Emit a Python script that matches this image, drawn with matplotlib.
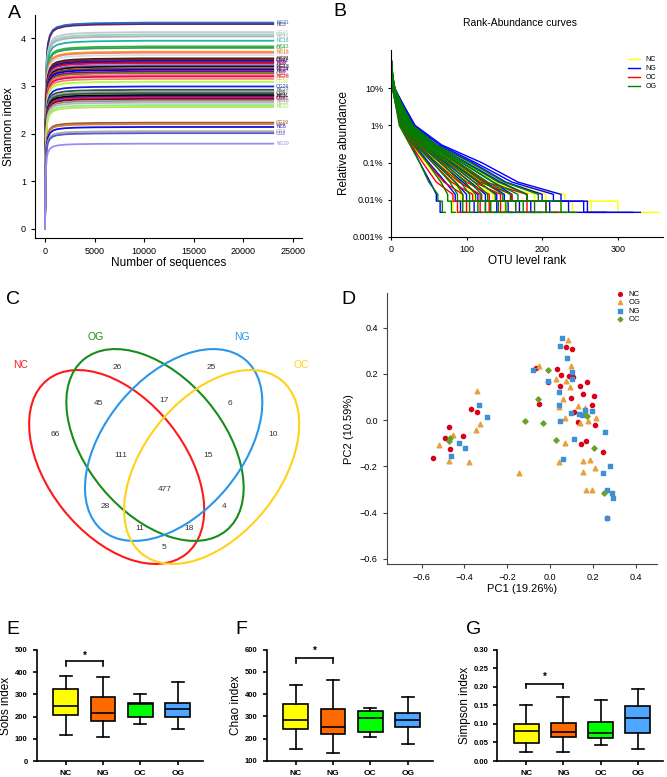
import numpy as np
import matplotlib
matplotlib.use("Agg")
import matplotlib.pyplot as plt
from matplotlib.patches import Ellipse

plt.rcParams['font.family'] = ['Liberation Sans', 'DejaVu Sans']

W, H = 667, 777

# ---------------- A: Shannon rarefaction curves ----------------
depth = [0, 50, 100, 200, 300, 500, 800, 1200, 2000, 3000, 5000, 10000, 23000]
depth_frac = [0, 0.55, 0.72, 0.85, 0.90, 0.94, 0.965, 0.978, 0.988, 0.993, 0.997, 1.0, 1.0]
shannon_names = ['NG31', 'NC3', 'OG16', 'OG6', 'NC21', 'NC16', 'NC13', 'OC4', 'NG15', 'NC15',
                 'OG11', 'NG21', 'OG27', 'OG21', 'NG9', 'NC8', 'OC1', 'NG18', 'OG13', 'NC24',
                 'NG4', 'OG8', 'NC19', 'NG26', 'OC7', 'OG30', 'OG24', 'NC27', 'NG12', 'OG5',
                 'NC11', 'NG2', 'OC3', 'OG17', 'NG23', 'NC30', 'NC7', 'NC20', 'OG19', 'OG9',
                 'NC6', 'OG3', 'OG2', 'NG29']
shannon_final = [4.33, 4.30, 4.13, 4.08, 4.04, 3.95, 3.83, 3.80, 3.72, 3.70,
                 3.65, 3.58, 3.56, 3.53, 3.50, 3.48, 3.44, 3.41, 3.37, 3.34,
                 3.30, 3.27, 3.23, 3.20, 3.15, 3.09, 2.99, 2.92, 2.88, 2.85,
                 2.81, 2.78, 2.76, 2.73, 2.69, 2.65, 2.60, 2.56, 2.23, 2.20,
                 2.14, 2.05, 2.01, 1.79]
shannon_colors = ['#1f6fd1', '#5a2a6a', '#c8c8c8', '#8fd6d0', '#b0b0b0', '#20b2aa', '#2db82d', '#3a9a6a', '#ffa500', '#f08070',
                  '#dddddd', '#222222', '#8b1a1a', '#1a1a8a', '#4b0082', '#dc143c', '#9370db', '#111111', '#8b4513', '#0000cd',
                  '#8b008b', '#808000', '#ff69b4', '#dc143c', '#fa8072', '#adff2f', '#1e1ee0', '#2f4f4f', '#a0a0a0', '#2e5e3e',
                  '#000000', '#191970', '#e0207a', '#800020', '#909090', '#b8b8b8', '#90ee90', '#b5e655', '#a0522d', '#cd853f',
                  '#1010e0', '#a9a9a9', '#5555cc', '#9b8cf0']

# ---------------- B: rank-abundance curves ----------------
# (top abundance, rank@10%, rank@1%, rank@0.3%, rank@0.1%, rank@0.03%,
#  rank reaching doubletons, rank reaching singletons, last rank)
nc_curves = [(0.35, 3, 26, 55, 95, 140, 230, 300, 355), (0.28, 4, 30, 62, 105, 150, 205, 265, 295),
             (0.40, 3, 22, 48, 85, 125, 190, 240, 270), (0.22, 5, 28, 58, 98, 140, 180, 225, 255),
             (0.30, 4, 20, 44, 78, 115, 160, 205, 240), (0.45, 2, 18, 40, 72, 105, 135, 170, 200),
             (0.25, 5, 24, 50, 85, 120, 130, 150, 175), (0.33, 3, 16, 36, 62, 92, 110, 130, 150),
             (0.38, 3, 14, 32, 56, 82, 95, 115, 130), (0.27, 4, 19, 40, 66, 88, 92, 100, 110),
             (0.31, 4, 12, 28, 46, 66, 75, 82, 90)]
ng_curves = [(0.45, 4, 32, 67, 120, 168, 225, 260, 330), (0.30, 5, 30, 64, 112, 160, 215, 255, 320),
             (0.50, 3, 29, 60, 108, 152, 200, 235, 285), (0.28, 5, 27, 57, 100, 145, 180, 210, 232),
             (0.35, 4, 25, 54, 94, 135, 160, 185, 205), (0.40, 3, 23, 50, 88, 125, 150, 170, 190),
             (0.25, 5, 21, 46, 80, 115, 140, 155, 170), (0.32, 4, 19, 42, 72, 105, 125, 140, 160),
             (0.38, 3, 17, 38, 65, 95, 115, 125, 140), (0.29, 4, 16, 35, 58, 85, 100, 110, 120),
             (0.42, 3, 14, 31, 50, 72, 85, 92, 100), (0.55, 2, 12, 27, 38, 52, 60, 65, 68)]
oc_curves = [(0.40, 3, 24, 50, 88, 125, 180, 205, 225), (0.35, 4, 22, 46, 82, 118, 160, 180, 200),
             (0.30, 4, 20, 42, 76, 110, 145, 165, 180), (0.45, 3, 18, 38, 68, 100, 130, 145, 160),
             (0.28, 5, 20, 36, 60, 90, 118, 130, 140), (0.33, 4, 16, 33, 55, 80, 108, 118, 125),
             (0.38, 3, 14, 30, 48, 70, 95, 100, 110), (0.50, 2, 12, 27, 42, 60, 82, 88, 95)]
og_curves = [(0.48, 3, 29, 60, 105, 150, 195, 225, 245), (0.35, 4, 27, 57, 98, 142, 180, 205, 220),
             (0.30, 5, 26, 54, 94, 135, 168, 190, 205), (0.42, 3, 24, 52, 90, 128, 158, 175, 190),
             (0.26, 5, 23, 50, 86, 122, 148, 165, 175), (0.38, 4, 22, 47, 82, 116, 138, 152, 160),
             (0.33, 4, 21, 45, 78, 110, 128, 142, 150), (0.29, 5, 20, 43, 74, 104, 120, 132, 140),
             (0.44, 3, 18, 40, 70, 98, 112, 125, 130), (0.31, 4, 17, 38, 66, 92, 104, 115, 120),
             (0.36, 4, 15, 35, 60, 85, 95, 104, 110), (0.40, 3, 14, 32, 55, 78, 88, 95, 100),
             (0.27, 5, 13, 29, 48, 66, 75, 80, 85), (0.52, 2, 11, 25, 38, 50, 62, 68, 72)]
singleton = 4.6e-5
doubleton = 9.2e-5

# ---------------- C: Venn counts ----------------
venn_sets = ['NC', 'OG', 'NG', 'OC']
venn_counts = [26, 25, 45, 17, 6, 66, 10, 111, 15, 477, 28, 4, 11, 18, 5]

# ---------------- D: PCA ----------------
pca_nc_x = [-0.549, -0.493, -0.472, -0.466, -0.407, -0.370, -0.340, -0.064, -0.050, -0.008, 0.033, 0.050, 0.073, 0.101, 0.047,
            0.090, 0.106, 0.099, 0.113, 0.137, 0.155, 0.174, 0.132, 0.146, 0.165, 0.194, 0.205, 0.210, 0.247, 0.266]
pca_nc_y = [-0.166, -0.079, -0.029, -0.125, -0.069, 0.046, 0.036, 0.226, 0.069, 0.163, 0.221, 0.195, 0.314, 0.309, 0.147,
            0.190, 0.187, 0.094, 0.035, 0.147, 0.112, 0.166, -0.010, -0.104, -0.091, 0.065, 0.104, -0.022, -0.137, -0.425]
pca_og_x = [-0.519, -0.471, -0.452, -0.381, -0.348, -0.340, -0.329, -0.145, -0.053, 0.025, 0.042, 0.042, 0.059, 0.068, 0.073,
            0.068, 0.081, 0.093, 0.096, 0.131, 0.138, 0.155, 0.155, 0.162, 0.168, 0.177, 0.185, 0.196, 0.210, 0.216]
pca_og_y = [-0.108, -0.176, -0.065, -0.183, -0.043, 0.124, -0.016, -0.228, 0.235, 0.176, 0.058, -0.182, 0.092, 0.010, 0.170,
            -0.099, 0.346, 0.143, 0.234, 0.059, -0.012, -0.177, -0.226, 0.052, -0.304, -0.003, -0.172, -0.304, -0.208, 0.009]
pca_ng_x = [-0.463, -0.426, -0.396, -0.331, -0.297, -0.079, -0.011, 0.040, 0.040, 0.047, 0.056, 0.047, 0.058, 0.079, 0.103,
            0.103, 0.099, 0.112, 0.135, 0.148, 0.163, 0.197, 0.246, 0.256, 0.264, 0.266, 0.278, 0.287, 0.294]
pca_ng_y = [-0.156, -0.098, -0.123, 0.066, 0.014, 0.216, 0.170, 0.121, 0.066, 0.322, 0.355, -0.003, -0.169, 0.268, 0.209,
            0.176, 0.029, -0.084, 0.027, 0.022, 0.042, 0.039, -0.228, -0.053, -0.303, -0.424, -0.199, -0.317, -0.337]
pca_oc_x = [-0.474, -0.466, -0.118, -0.056, -0.033, -0.011, 0.028, 0.166, 0.171, 0.205, 0.253]
pca_oc_y = [-0.089, -0.076, -0.006, 0.089, -0.012, 0.218, -0.087, 0.022, 0.017, -0.120, -0.314]

# ---------------- E-G: alpha diversity boxes ----------------
groups = ['NC', 'NG', 'OC', 'OG']
# whisker low, Q1, median, Q3, whisker high
sobs_stats = [(116, 207, 249, 324, 384), (107, 179, 215, 287, 378),
              (167, 198, 257, 260, 302), (143, 198, 233, 260, 356)]
chao_stats = [(151, 243, 282, 357, 441), (133, 222, 250, 331, 465),
              (205, 228, 291, 325, 339), (175, 252, 282, 313, 388)]
simpson_stats = [(0.024, 0.049, 0.080, 0.101, 0.152), (0.024, 0.065, 0.079, 0.103, 0.172),
                 (0.043, 0.062, 0.075, 0.106, 0.164), (0.033, 0.075, 0.115, 0.149, 0.193)]
box_colors = ['#ffff00', '#ff6a00', '#00ff00', '#4da6ff']


fig = plt.figure(figsize=(W / 100, H / 100), dpi=100)


def ax_px(l, t, r, b):
    return fig.add_axes([l / W, 1 - b / H, (r - l) / W, (b - t) / H])


def letter(x, y, s):
    fig.text(x / W, 1 - y / H, s, fontsize=14, ha='left', va='center')


# ---- A ----
axA = ax_px(35, 15, 302, 238)
for name, val, col in zip(shannon_names, shannon_final, shannon_colors):
    axA.plot(depth, np.array(depth_frac) * val, color=col, lw=1.3)
    axA.text(23300, val, name, color=col, fontsize=3.5, va='center', ha='left')
axA.set_xlim(-1008, 25900)
axA.set_ylim(-0.19, 4.49)
axA.set_xticks([0, 5000, 10000, 15000, 20000, 25000])
axA.set_yticks([0, 1, 2, 3, 4])
axA.spines[['top', 'right']].set_visible(False)
axA.tick_params(labelsize=6.5, length=3)
axA.set_xlabel('Number of sequences', fontsize=8.5, labelpad=1)
axA.set_ylabel('Shannon index', fontsize=8.5, labelpad=4)
letter(8, 13, 'A')

# ---- B ----
axB = ax_px(391, 50, 663, 237)
for curves, col in [(nc_curves, '#ffff00'), (ng_curves, '#0000ff'), (oc_curves, '#ff0000'), (og_curves, '#008000')]:
    for top, r10, r1, r03, r01, r003, rd, rs, rmax in curves:
        ranks = [1, r10, r1, r03, r01, r003, rd, rd, rs, rs, rmax]
        ab = [top, 0.1, 0.01, 0.003, 0.001, 0.0003, 1.4e-4, doubleton, doubleton, singleton, singleton]
        axB.plot(ranks, ab, color=col, lw=1.0)
axB.set_yscale('log')
axB.set_ylim(1e-5, 1.07)
axB.set_xlim(0, 360)
axB.set_yticks([1e-5, 1e-4, 1e-3, 1e-2, 1e-1])
axB.set_yticklabels(['0.001%', '0.01%', '0.1%', '1%', '10%'])
axB.minorticks_off()
axB.set_xticks([0, 100, 200, 300])
axB.spines[['top', 'right']].set_visible(False)
axB.tick_params(labelsize=6.5, length=2)
axB.set_xlabel('OTU level rank', fontsize=8.5, labelpad=1)
axB.set_ylabel('Relative abundance', fontsize=8.5, labelpad=2)
for lab, col in zip(['NC', 'NG', 'OC', 'OG'], ['#ffff00', '#0000ff', '#ff0000', '#008000']):
    axB.plot([], [], color=col, lw=1, label=lab)
axB.legend(loc='upper right', bbox_to_anchor=(1.0, 1.0), frameon=False, fontsize=5,
           handlelength=1.8, labelspacing=0.3)
fig.text(520 / W, 1 - 23 / H, 'Rank-Abundance curves', fontsize=7.5, ha='center', va='center')
letter(333, 12, 'B')

# ---- C ----
axC = ax_px(0, 270, 330, 570)
axC.set_xlim(0, 990)
axC.set_ylim(900, 0)
axC.axis('off')
venn_cols = ['#ff1a1a', '#1a8c1a', '#2a96ea', '#ffd21a']
ell_centers = [(350, 591), (465, 525), (521, 525), (635, 591)]
ell_angles = [51.5, 50, -50, -51.5]
for (cx, cy), ang, col in zip(ell_centers, ell_angles, venn_cols):
    axC.add_patch(Ellipse((cx, cy), 668, 410, angle=ang, fill=False, edgecolor=col, lw=1.5))
set_label_pos = [(62, 285), (287, 200), (727, 200), (905, 285)]
for (x, y), s, col in zip(set_label_pos, venn_sets, venn_cols):
    axC.text(x, y, s, color=col, fontsize=7.5, ha='center', va='center')
count_pos = [(352, 292), (633, 292), (296, 400), (493, 392), (690, 400), (165, 492), (820, 492),
             (362, 557), (624, 557), (493, 658), (315, 708), (671, 708), (418, 775), (568, 775), (493, 833)]
for (x, y), n in zip(count_pos, venn_counts):
    axC.text(x, y, str(n), fontsize=6, ha='center', va='center', color='#333333')
letter(6, 300, 'C')

# ---- D ----
axD = ax_px(386.7, 293.3, 656.7, 564.3)
axD.scatter(pca_nc_x, pca_nc_y, marker='o', s=9, color='#d9001b', label='NC', zorder=3)
axD.scatter(pca_og_x, pca_og_y, marker='^', s=11, color='#e6a03c', label='OG', zorder=3)
axD.scatter(pca_ng_x, pca_ng_y, marker='s', s=8, color='#3d8fd6', label='NG', zorder=3)
axD.scatter(pca_oc_x, pca_oc_y, marker='D', s=7, color='#6aa12a', label='OC', zorder=3)
axD.set_xlim(-0.763, 0.497)
axD.set_ylim(-0.624, 0.548)
axD.set_xticks([-0.6, -0.4, -0.2, 0.0, 0.2, 0.4])
axD.set_yticks([-0.6, -0.4, -0.2, 0.0, 0.2, 0.4])
axD.spines[['top', 'right']].set_visible(False)
for sp in ['left', 'bottom']:
    axD.spines[sp].set_color('#444444')
axD.tick_params(labelsize=6.5, length=3, color='#444444')
axD.set_xlabel('PC1 (19.26%)', fontsize=8, labelpad=1)
axD.set_ylabel('PC2 (10.59%)', fontsize=8, labelpad=4)
axD.legend(loc='upper right', bbox_to_anchor=(0.96, 1.03), frameon=False, fontsize=5.5,
           handletextpad=0.1, labelspacing=0.15, markerscale=0.9, borderpad=0.2)
letter(341, 300, 'D')


# ---- E, F, G ----
def box_panel(rect, stats, ylim, yticks, yfmt, ylabel, bracket, lab, lab_xy):
    ax = ax_px(*rect)
    bxp_stats = [dict(whislo=s[0], q1=s[1], med=s[2], q3=s[3], whishi=s[4], fliers=[]) for s in stats]
    parts = ax.bxp(bxp_stats, positions=range(4), widths=0.66, patch_artist=True, showfliers=False,
                   boxprops=dict(lw=1.2), whiskerprops=dict(lw=1.2), capprops=dict(lw=1.2),
                   medianprops=dict(color='black', lw=1.2))
    for patch, col in zip(parts['boxes'], box_colors):
        patch.set_facecolor(col)
        patch.set_edgecolor('black')
    for cap in parts['caps']:
        xd = cap.get_xdata()
        mid = np.mean(xd)
        cap.set_xdata([mid - 0.16, mid + 0.16])
    ax.set_xlim(-0.78, 3.68)
    ax.set_ylim(*ylim)
    ax.set_yticks(yticks)
    ax.set_yticklabels([yfmt.format(v) for v in yticks])
    ax.set_xticks(range(4))
    ax.set_xticklabels(groups)
    ax.spines[['top', 'right']].set_visible(False)
    for sp in ['left', 'bottom']:
        ax.spines[sp].set_linewidth(1.2)
    ax.tick_params(width=1.2, length=3, labelsize=5.5)
    for t in ax.get_xticklabels() + ax.get_yticklabels():
        t.set_fontweight('bold')
    ax.tick_params(axis='x', labelsize=6)
    ax.set_ylabel(ylabel, fontsize=8.5, labelpad=2)
    y0, y1, ys = bracket
    ax.plot([0, 1], [y0, y0], color='black', lw=1.2)
    ax.plot([0, 0], [y1, y0], color='black', lw=1.2)
    ax.plot([1, 1], [y1, y0], color='black', lw=1.2)
    ax.text(0.5, ys, '*', ha='center', va='center', fontsize=7, fontweight='bold')
    letter(lab_xy[0], lab_xy[1], lab)
    return ax


box_panel((36.7, 650, 203, 761), sobs_stats, (0, 500), [0, 100, 200, 300, 400, 500], '{:.0f}',
          'Sobs index', (449, 428, 475), 'E', (6, 630))
box_panel((266.7, 649.7, 433, 760.7), chao_stats, (100, 600), [100, 200, 300, 400, 500, 600], '{:.0f}',
          'Chao index', (561, 541, 593), 'F', (235, 630))
box_panel((497.3, 649.7, 663, 761), simpson_stats, (0, 0.30), [0, 0.05, 0.10, 0.15, 0.20, 0.25, 0.30], '{:.2f}',
          'Simpson index', (0.208, 0.196, 0.226), 'G', (466, 630))

fig.savefig('out.png', dpi=100)
